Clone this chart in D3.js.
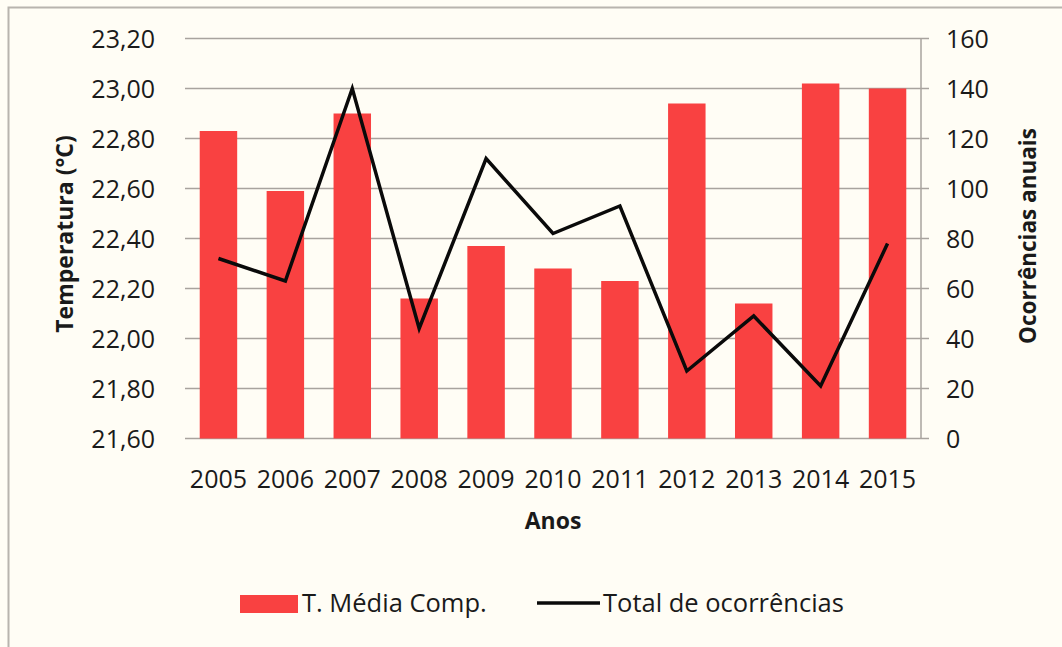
<!DOCTYPE html>
<html><head><meta charset="utf-8">
<script src="https://cdn.jsdelivr.net/npm/d3@7"></script>
<style>
html,body{margin:0;padding:0;background:#fffdf5;}
svg{display:block;}
text{font-family:"Open Sans",Lato,sans-serif;fill:#1a1a1a;}
</style></head>
<body>
<script>
const years = ["2005","2006","2007","2008","2009","2010","2011","2012","2013","2014","2015"];
const tempMedia = [22.83,22.59,22.90,22.16,22.37,22.28,22.23,22.94,22.14,23.02,23.00];
const ocorrencias = [72,63,140,44,112,82,93,27,49,21,78];
const leftTicks = [21.6,21.8,22.0,22.2,22.4,22.6,22.8,23.0,23.2];
const rightTicks = [0,20,40,60,80,100,120,140,160];

const W=1062,H=647;
const svg=d3.select("body").append("svg").attr("width",W).attr("height",H);
svg.append("rect").attr("width",W).attr("height",H).attr("fill","#fffdf5");
// outer frame (left & top visible)
svg.append("path").attr("d","M8.5,660 V7.5 H1070").attr("fill","none").attr("stroke","#b8b4ae").attr("stroke-width",2);

const L=185,R=921,T=38.5,B=438.5;
const x=d3.scaleBand().domain(years).range([L,R]).paddingInner(0.44).paddingOuter(0.22);
const yL=d3.scaleLinear().domain([21.6,23.2]).range([B,T]);
const yR=d3.scaleLinear().domain([0,160]).range([B,T]);

// gridlines
svg.append("g").selectAll("line").data(leftTicks).join("line")
 .attr("x1",L).attr("x2",R+8).attr("y1",d=>yL(d)).attr("y2",d=>yL(d))
 .attr("stroke","#a8a39e").attr("stroke-width",1.5);

// bars
svg.append("g").selectAll("rect").data(years).join("rect")
 .attr("x",d=>x(d)).attr("width",x.bandwidth())
 .attr("y",(d,i)=>yL(tempMedia[i])).attr("height",(d,i)=>B-yL(tempMedia[i]))
 .attr("fill","#f94141");

// right axis line
svg.append("line").attr("x1",R).attr("x2",R).attr("y1",T).attr("y2",B).attr("stroke","#a8a39e").attr("stroke-width",1.5);

// line
const line=d3.line().x((d,i)=>x(years[i])+x.bandwidth()/2).y(d=>yR(d));
svg.append("path").datum(ocorrencias).attr("d",line).attr("fill","none").attr("stroke","#0a0a0a").attr("stroke-width",3.5).attr("stroke-linejoin","miter");

// left tick labels
const fmt=d=>d.toFixed(2).replace(".",",");
svg.append("g").selectAll("text").data(leftTicks).join("text")
 .attr("x",155).attr("y",d=>yL(d)).attr("dy","0.36em").attr("text-anchor","end")
 .style("font-size","25px").text(fmt);
// right tick labels
svg.append("g").selectAll("text").data(rightTicks).join("text")
 .attr("x",946).attr("y",d=>yR(d)).attr("dy","0.36em").attr("text-anchor","start")
 .style("font-size","25px").text(d=>d);
// x labels
svg.append("g").selectAll("text").data(years).join("text")
 .attr("x",d=>x(d)+x.bandwidth()/2).attr("y",488).attr("text-anchor","middle")
 .style("font-size","25px").text(d=>d);

// axis titles
svg.append("text").attr("transform","translate(73,234) rotate(-90)").attr("text-anchor","middle")
 .style("font-size","23px").style("font-weight","bold").text("Temperatura (°C)");
svg.append("text").attr("transform","translate(1036,236) rotate(-90)").attr("text-anchor","middle")
 .style("font-size","22.5px").style("font-weight","bold").text("Ocorrências anuais");
svg.append("text").attr("x",553).attr("y",529).attr("text-anchor","middle")
 .style("font-size","23px").style("font-weight","bold").text("Anos");

// legend
const lg=svg.append("g");
lg.append("rect").attr("x",240).attr("y",595).attr("width",58).attr("height",18).attr("fill","#f94141");
lg.append("text").attr("x",302).attr("y",612).style("font-size","25.5px").text("T. Média Comp.");
lg.append("line").attr("x1",537).attr("x2",600).attr("y1",603).attr("y2",603).attr("stroke","#0a0a0a").attr("stroke-width",3.5);
lg.append("text").attr("x",603).attr("y",612).style("font-size","25.5px").text("Total de ocorrências");
</script>
</body></html>
